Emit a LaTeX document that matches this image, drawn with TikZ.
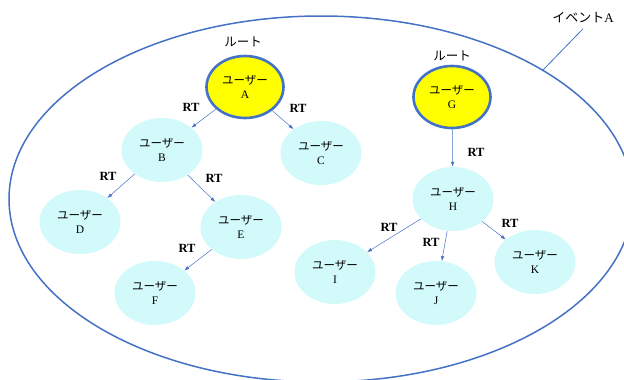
\documentclass[tikz,border=0pt]{standalone}
\usepackage{fontspec}
\setmainfont{Liberation Serif}
\newfontfamily\jpfont{Noto Sans CJK JP}
\usepackage{xcolor}
\usepackage{tikz}
\usetikzlibrary{arrows.meta,shapes.geometric}
\definecolor{evblue}{RGB}{68,114,196}
\definecolor{rootyellow}{RGB}{255,255,0}
\definecolor{usercyan}{RGB}{210,250,250}
\newcommand{\usr}[1]{{\jpfont ユーザー}\\#1}

\begin{document}
\begin{tikzpicture}[x=1pt,y=-1pt,
  user/.style={ellipse,fill=usercyan,minimum width=81pt,minimum height=64pt,
    align=center,inner sep=0pt,font=\fontsize{11.5}{14}\selectfont},
  root/.style={user,fill=rootyellow,draw=evblue,line width=2.6pt,
    minimum width=77pt,minimum height=62pt},
  rt/.style={font=\fontsize{12.5}{14}\selectfont\bfseries},
  jp/.style={font=\fontsize{12.5}{14}\selectfont\jpfont},
  rtarrow/.style={draw=evblue,line width=0.5pt,-{Latex[length=5pt,width=3.5pt]}}]
\clip (0,0) rectangle (624,380);
\useasboundingbox (0,0) rectangle (624,380);
% event
\draw[evblue,line width=1.5pt] (321,199) ellipse [x radius=312,y radius=183];
\node[font=\fontsize{13}{14}\selectfont] (event) at (583,18) {{\jpfont イベント}A};
\coordinate (evedge) at (542,71);
\draw[evblue,line width=0.8pt] (event.south) ++(0,2) -- (evedge);
% roots
\node[root] (A) at (245,87) {\usr{A}};
\node[root] (G) at (452,97) {\usr{G}};
\node[jp] (rootA) at (243,42) {ルート};
\node[jp] (rootG) at (452,56) {ルート};
% users
\node[user] (B) at (162,150) {\usr{B}};
\node[user] (C) at (321,153) {\usr{C}};
\node[user] (D) at (80,222) {\usr{D}};
\node[user] (E) at (241,227) {\usr{E}};
\node[user] (F) at (155,293) {\usr{F}};
\node[user] (H) at (453,199) {\usr{H}};
\node[user] (I) at (335,272) {\usr{I}};
\node[user] (J) at (436,293) {\usr{J}};
\node[user] (K) at (535,262) {\usr{K}};
% retweets
\draw[rtarrow] (A) -- (B);
\draw[rtarrow] (A) -- (C);
\draw[rtarrow] (B) -- (D);
\draw[rtarrow] (B) -- (E);
\draw[rtarrow] (E) -- (F);
\draw[rtarrow] (G) -- (H);
\draw[rtarrow] (H) -- (I);
\draw[rtarrow] (H) -- (J);
\draw[rtarrow] (H) -- (K);
\node[rt] (rtAB) at (191,107) {RT};
\node[rt] (rtAC) at (298,108) {RT};
\node[rt] (rtBD) at (108,176) {RT};
\node[rt] (rtBE) at (214,178) {RT};
\node[rt] (rtEF) at (187,248) {RT};
\node[rt] (rtGH) at (476,152) {RT};
\node[rt] (rtHI) at (389,227) {RT};
\node[rt] (rtHJ) at (431,242) {RT};
\node[rt] (rtHK) at (510,223) {RT};
\end{tikzpicture}
\end{document}
